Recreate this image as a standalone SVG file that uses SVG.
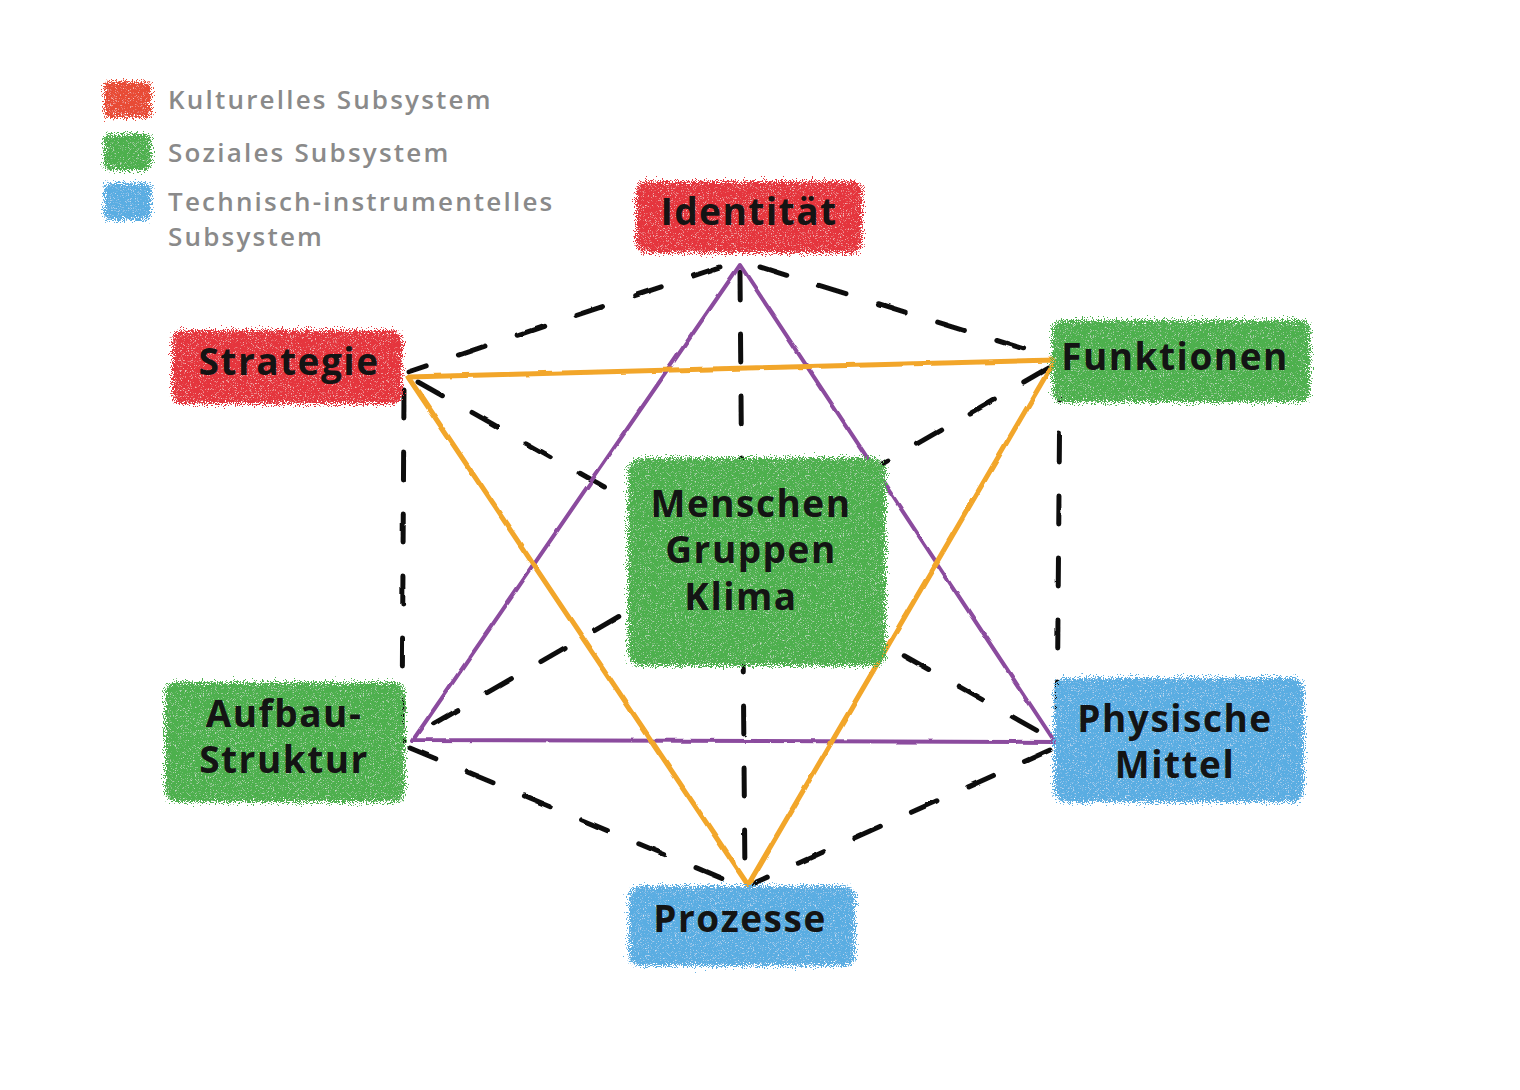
<svg xmlns="http://www.w3.org/2000/svg" width="1520" height="1090" viewBox="0 0 1520 1090">
<defs>
<filter id="crayon" x="-10%" y="-15%" width="120%" height="130%">
<feTurbulence type="fractalNoise" baseFrequency="0.9" numOctaves="3" seed="3" result="n"/>
<feDisplacementMap in="SourceGraphic" in2="n" scale="16" xChannelSelector="R" yChannelSelector="G" result="d"/>
<feTurbulence type="fractalNoise" baseFrequency="1.6" numOctaves="1" seed="9" result="n2"/>
<feColorMatrix in="n2" type="matrix" values="0 0 0 0 1  0 0 0 0 1  0 0 0 0 1  2.6 0 0 0 -1.5" result="speck"/>
<feComposite in="speck" in2="d" operator="in" result="sp"/>
<feMerge><feMergeNode in="d"/><feMergeNode in="sp"/></feMerge>
</filter>
<filter id="rough" x="-5%" y="-5%" width="110%" height="110%">
<feTurbulence type="fractalNoise" baseFrequency="0.05" numOctaves="2" seed="5" result="n"/>
<feDisplacementMap in="SourceGraphic" in2="n" scale="3" xChannelSelector="R" yChannelSelector="G"/>
</filter>
</defs>
<style>
.red{fill:#e5343d}
.green{fill:#4db04e}
.blue{fill:#5aade2}
.blob{filter:url(#crayon)}
.lbl{font-family:"Open Sans","Liberation Sans",sans-serif;font-weight:700;font-size:37px;fill:#141414;text-anchor:middle;letter-spacing:1.5px}
.leg{font-family:"Open Sans","Liberation Sans",sans-serif;font-weight:600;font-size:26px;fill:#8a8a8a;letter-spacing:2.2px}
.dash{fill:none;stroke:#111;stroke-width:5;stroke-linecap:round;stroke-dasharray:28 34}
.purple{fill:none;stroke:#8b4b9e;stroke-width:4;stroke-linejoin:round}
.orange{fill:none;stroke:#f2a62b;stroke-width:5;stroke-linejoin:round}
</style>
<rect width="1520" height="1090" fill="#ffffff"/>

<g id="legend">
<rect class="blob" x="104" y="81" width="47" height="37" rx="6" fill="#e84b35"/>
<rect class="blob green" x="104" y="134" width="47" height="36" rx="6"/>
<rect class="blob blue" x="104" y="183" width="47" height="37" rx="6"/>
<text class="leg" x="168" y="109">Kulturelles Subsystem</text>
<text class="leg" x="168" y="162">Soziales Subsystem</text>
<text class="leg" x="168" y="211">Technisch-instrumentelles</text>
<text class="leg" x="168" y="246">Subsystem</text>
</g>

<g id="connectors" filter="url(#rough)">
<line class="dash" x1="720" y1="267" x2="408" y2="372"/>
<line class="dash" x1="760" y1="267" x2="1050" y2="357"/>
<line class="dash" x1="404" y1="390" x2="402" y2="735"/>
<line class="dash" x1="1060" y1="372" x2="1057" y2="738"/>
<line class="dash" x1="410" y1="748" x2="735" y2="884"/>
<line class="dash" x1="1050" y1="750" x2="752" y2="884"/>
<line class="dash" x1="740" y1="272" x2="745" y2="880"/>
<line class="dash" x1="418" y1="382" x2="1045" y2="735"/>
<line class="dash" x1="1048" y1="368" x2="402" y2="742"/>
<polygon class="purple" points="740,265 413,740 1055,742"/>
<polygon class="orange" points="408,377 1055,360 748,885"/>
</g>

<g id="node-identitaet">
<rect class="blob red" x="636" y="181" width="226" height="72" rx="10"/>
<text class="lbl" x="749" y="225">Identität</text>
</g>

<g id="node-strategie">
<rect class="blob red" x="172" y="330" width="230" height="74" rx="10"/>
<text class="lbl" x="289" y="375">Strategie</text>
</g>

<g id="node-funktionen">
<rect class="blob green" x="1052" y="320" width="258" height="82" rx="10"/>
<text class="lbl" x="1175" y="370">Funktionen</text>
</g>

<g id="node-menschen">
<rect class="blob green" x="628" y="458" width="258" height="208" rx="14"/>
<text class="lbl" x="751" y="517">Menschen</text>
<text class="lbl" x="751" y="563">Gruppen</text>
<text class="lbl" x="741" y="610">Klima</text>
</g>

<g id="node-aufbau">
<rect class="blob green" x="165" y="682" width="240" height="120" rx="12"/>
<text class="lbl" x="284" y="727">Aufbau-</text>
<text class="lbl" x="284" y="773">Struktur</text>
</g>

<g id="node-physische">
<rect class="blob blue" x="1054" y="678" width="250" height="124" rx="12"/>
<text class="lbl" x="1175" y="732">Physische</text>
<text class="lbl" x="1175" y="778">Mittel</text>
</g>

<g id="node-prozesse">
<rect class="blob blue" x="629" y="886" width="226" height="80" rx="10"/>
<text class="lbl" x="740" y="932">Prozesse</text>
</g>
</svg>
